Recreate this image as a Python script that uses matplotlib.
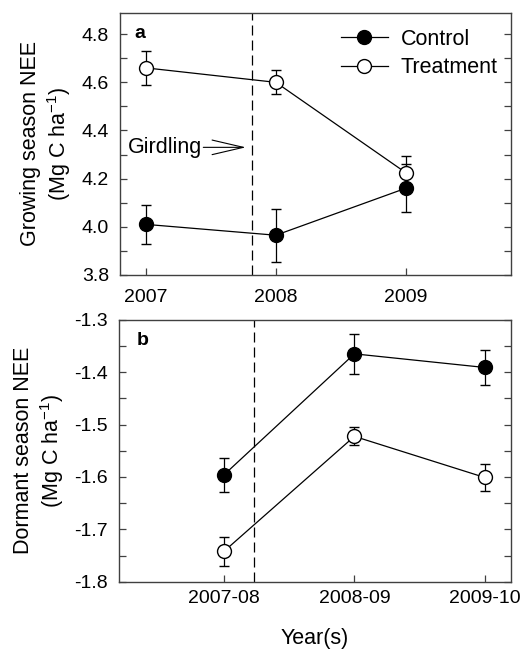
import matplotlib
matplotlib.use("Agg")
import matplotlib.pyplot as plt
from matplotlib.ticker import MultipleLocator, FormatStrFormatter
from matplotlib.lines import Line2D

plt.rcParams['font.family'] = ['Liberation Sans', 'DejaVu Sans']
plt.rcParams['mathtext.fontset'] = 'custom'
plt.rcParams['mathtext.rm'] = 'Liberation Sans'
plt.rcParams['mathtext.it'] = 'Liberation Sans:italic'
plt.rcParams['font.size'] = 15

# growing season NEE (Mg C / ha)
grow_years = [2007, 2008, 2009]
grow_ctrl = [4.01, 3.965, 4.16]
grow_ctrl_err = [0.08, 0.11, 0.10]
grow_trt = [4.66, 4.60, 4.225]
grow_trt_err = [0.07, 0.05, 0.07]

# dormant season NEE (Mg C / ha)
dorm_labels = ['2007-08', '2008-09', '2009-10']
dorm_ctrl = [-1.596, -1.365, -1.391]
dorm_ctrl_err = [0.032, 0.038, 0.034]
dorm_trt = [-1.742, -1.5225, -1.601]
dorm_trt_err = [0.027, 0.017, 0.025]

SPINE = '#404040'
MS = 10


def style_axes(ax):
    for s in ax.spines.values():
        s.set_color(SPINE)
        s.set_linewidth(1.0)
    ax.tick_params(which='both', direction='in', length=5, width=0.9,
                   color=SPINE, left=True, right=True, top=False,
                   labelsize=14)


def draw_series(ax, x, y, err, face):
    ax.errorbar(x, y, yerr=err, fmt='-o', color='black', lw=0.9,
                ms=MS, mfc=face, mec='black', mew=1.0,
                ecolor='black', elinewidth=0.9, capsize=3.5, capthick=0.9,
                zorder=3)


fig = plt.figure(figsize=(5.24, 6.5), dpi=100)
ax1 = fig.add_axes([0.229, 0.577, 0.746, 0.403])
ax2 = fig.add_axes([0.227, 0.105, 0.748, 0.403])

# panel a
draw_series(ax1, grow_years, grow_ctrl, grow_ctrl_err, 'black')
draw_series(ax1, grow_years, grow_trt, grow_trt_err, 'white')
ax1.axvline(2007.82, color='black', lw=0.9, dashes=(8, 4), zorder=1)
ax1.annotate('', xy=(2007.79, 4.33), xytext=(2007.42, 4.33),
             arrowprops=dict(arrowstyle='->,head_length=1.5,head_width=0.35',
                             color='black', lw=0.8))
ax1.text(2006.86, 4.33, 'Girdling', ha='left', va='center', fontsize=15.5)
ax1.set_xlim(2006.8, 2009.81)
ax1.set_ylim(3.8, 4.888)
ax1.set_xticks(grow_years)
ax1.set_xticklabels([str(y) for y in grow_years])
ax1.yaxis.set_major_locator(MultipleLocator(0.2))
ax1.yaxis.set_minor_locator(MultipleLocator(0.1))
ax1.yaxis.set_major_formatter(FormatStrFormatter('%.1f'))
style_axes(ax1)
ax1.tick_params(axis='x', pad=10)
ax1.tick_params(axis='y', pad=8)
ax1.set_ylabel('Growing season NEE\n(Mg C ha$^{-1}$)', labelpad=6,
               fontsize=15.5)
ax1.text(0.038, 0.955, 'a', transform=ax1.transAxes, fontweight='bold',
         fontsize=14, ha='left', va='top')
handles = [
    Line2D([], [], color='black', lw=0.9, marker='o', ms=MS,
           mfc='black', mec='black'),
    Line2D([], [], color='black', lw=0.9, marker='o', ms=MS,
           mfc='white', mec='black'),
]
ax1.legend(handles, ['Control', 'Treatment'], loc='upper right',
           frameon=False, handlelength=2.2, borderaxespad=0.2,
           handletextpad=0.6, labelspacing=0.35, fontsize=15.5,
           bbox_to_anchor=(1.0, 0.99))

# panel b
xb = [1, 2, 3]
draw_series(ax2, xb, dorm_ctrl, dorm_ctrl_err, 'black')
draw_series(ax2, xb, dorm_trt, dorm_trt_err, 'white')
ax2.axvline(1.23, color='black', lw=0.9, dashes=(8, 4), zorder=1)
ax2.set_xlim(0.195, 3.2)
ax2.set_ylim(-1.8, -1.3)
ax2.set_xticks(xb)
ax2.set_xticklabels(dorm_labels)
ax2.yaxis.set_major_locator(MultipleLocator(0.1))
ax2.yaxis.set_minor_locator(MultipleLocator(0.05))
ax2.yaxis.set_major_formatter(FormatStrFormatter('%.1f'))
style_axes(ax2)
ax2.tick_params(axis='x', pad=6)
ax2.tick_params(axis='y', pad=8)
ax2.set_ylabel('Dormant season NEE\n(Mg C ha$^{-1}$)', labelpad=6,
               fontsize=15.5)
ax2.set_xlabel('Year(s)', labelpad=15, fontsize=15.5)
ax2.text(0.045, 0.955, 'b', transform=ax2.transAxes, fontweight='bold',
         fontsize=14, ha='left', va='top')

fig.savefig('out.png', dpi=100)
